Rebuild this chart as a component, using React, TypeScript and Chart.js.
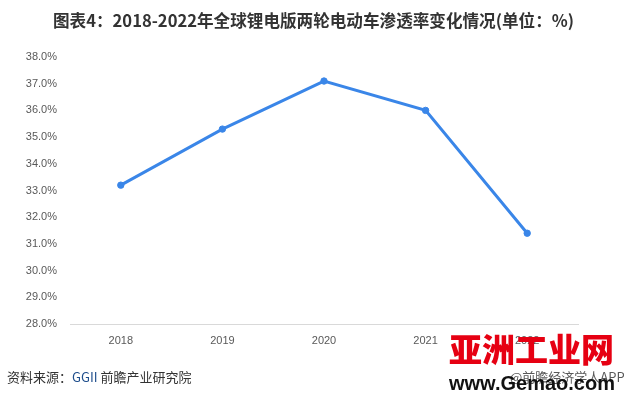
import React, { useEffect, useRef } from "react";
import { Chart, registerables } from "chart.js";

Chart.register(...registerables);

const years = ["2018", "2019", "2020", "2021", "2022"];
const penetration = [33.2, 35.3, 37.1, 36.0, 31.4];
const yMin = 28;
const yMax = 38;
const yStep = 1;

const titleText = "图表4：2018-2022年全球锂电版两轮电动车渗透率变化情况(单位：%)";
const sourceLabel = "资料来源：";
const sourceOrg = "GGII";
const sourceRest = " 前瞻产业研究院";
const creditText = "@前瞻经济学人APP";
const logoText = "亚洲工业网";
const siteText = "www.Gemao.com";

export default function App() {
  const ref = useRef<HTMLCanvasElement | null>(null);

  useEffect(() => {
    document.body.style.margin = "0";
    const ctx = ref.current;
    if (!ctx) return;
    const chart = new Chart(ctx, {
      type: "line",
      data: {
        labels: years,
        datasets: [
          {
            data: penetration,
            borderColor: "#3A86E8",
            backgroundColor: "#3A86E8",
            pointBackgroundColor: "#3A86E8",
            pointBorderColor: "#3A86E8",
            borderWidth: 3,
            pointRadius: 3.2,
            pointBorderWidth: 1,
            tension: 0,
          },
        ],
      },
      options: {
        responsive: false,
        animation: false,
        layout: { padding: { left: 0, right: 49, top: 57, bottom: 43 } },
        plugins: { legend: { display: false }, title: { display: false }, tooltip: { enabled: false } },
        scales: {
          x: {
            offset: true,
            grid: { display: false, drawTicks: false },
            border: { display: true, color: "#D9D9D9", width: 1 },
            ticks: {
              color: "#595959",
              font: { family: "'Liberation Sans', Arial, sans-serif", size: 11 },
              padding: 10,
              maxRotation: 0,
            },
            afterFit: (s: any) => {
              s.height = 30;
            },
          },
          y: {
            min: yMin,
            max: yMax,
            grid: { display: false, drawTicks: false },
            border: { display: false },
            ticks: {
              stepSize: yStep,
              color: "#595959",
              font: { family: "'Liberation Sans', Arial, sans-serif", size: 11 },
              padding: 13,
              callback: (v: any) => Number(v).toFixed(1) + "%",
            },
            afterFit: (s: any) => {
              s.width = 70;
            },
          },
        },
      },
    });
    return () => chart.destroy();
  }, []);

  const cjk = "'Noto Sans CJK SC', 'Microsoft YaHei', sans-serif";

  return (
    <div style={{ position: "fixed", left: 0, top: 0, width: 627, height: 397, background: "#fff", overflow: "hidden" }}>
      <canvas ref={ref} width={627} height={397} style={{ position: "absolute", left: 0, top: 0 }} />
      <div
        style={{
          position: "absolute",
          left: 0,
          top: 8,
          width: 627,
          textAlign: "center",
          fontFamily: cjk,
          fontWeight: 700,
          fontSize: 16.6,
          lineHeight: "24px",
          color: "#333333",
          whiteSpace: "nowrap",
        }}
      >
        {titleText}
      </div>
      <div
        style={{
          position: "absolute",
          left: 7,
          top: 367,
          fontFamily: cjk,
          fontSize: 13,
          lineHeight: "20px",
          color: "#333333",
          whiteSpace: "nowrap",
        }}
      >
        {sourceLabel}
        <span style={{ color: "#1F4E8C" }}>{sourceOrg}</span>
        {sourceRest}
      </div>
      <div
        style={{
          position: "absolute",
          left: 510,
          top: 367,
          fontFamily: cjk,
          fontSize: 13,
          lineHeight: "20px",
          color: "#595959",
          whiteSpace: "nowrap",
        }}
      >
        {creditText}
      </div>
      <div
        style={{
          position: "absolute",
          left: 449,
          top: 328,
          fontFamily: cjk,
          fontWeight: 900,
          fontSize: 33,
          lineHeight: "40px",
          color: "#E60012",
          whiteSpace: "nowrap",
          letterSpacing: 0,
        }}
      >
        {logoText}
      </div>
      <div
        style={{
          position: "absolute",
          left: 449,
          top: 372,
          fontFamily: "'Liberation Sans', Arial, sans-serif",
          fontWeight: 700,
          fontSize: 20,
          lineHeight: "22px",
          color: "#111111",
          whiteSpace: "nowrap",
        }}
      >
        {siteText}
      </div>
    </div>
  );
}
